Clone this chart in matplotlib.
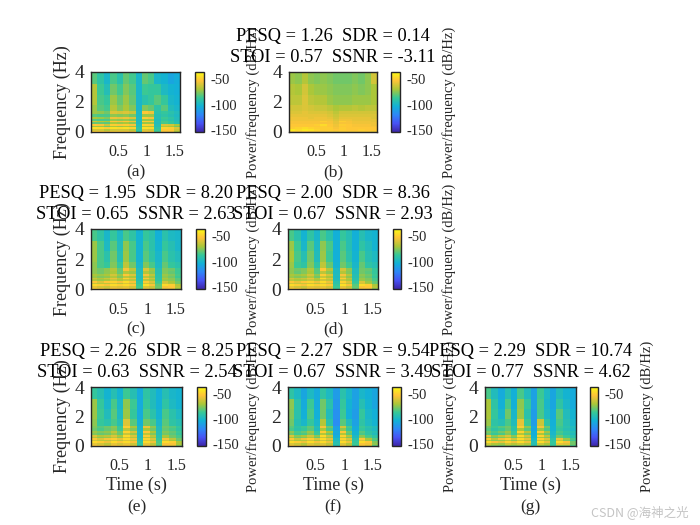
import matplotlib
matplotlib.use('Agg')
import matplotlib.pyplot as plt
import numpy as np
from matplotlib.colors import LinearSegmentedColormap

W, H = 700, 525

# parula-like colormap
parula = LinearSegmentedColormap.from_list('parula', [
    (0.2422, 0.1504, 0.6603), (0.2810, 0.3228, 0.9579), (0.1786, 0.5289, 0.9682),
    (0.0689, 0.6948, 0.8394), (0.2161, 0.7843, 0.5923), (0.6720, 0.7793, 0.2227),
    (0.9970, 0.7659, 0.2199), (0.9769, 0.9839, 0.0805)])

time_edges = [0.02, 0.13, 0.25, 0.36, 0.47, 0.58, 0.69, 0.81, 0.92, 1.03, 1.14, 1.25, 1.37, 1.48, 1.59]
freq_edges = [4.0, 3.2, 2.5, 1.8, 1.38, 1.22, 1.02, 0.9, 0.76, 0.64, 0.52, 0.42, 0.32, 0.2, 0.08, 0.0]

# dB values, top row = highest frequency
spec_a = [
    [-82, -90, -100, -84, -92, -80, -85, -100, -80, -84, -100, -102, -108, -105],
    [-68, -86, -95, -78, -85, -76, -82, -100, -86, -88, -88, -98, -102, -104],
    [-68, -84, -88, -72, -80, -72, -80, -100, -92, -88, -82, -88, -100, -102],
    [-72, -82, -85, -68, -76, -70, -76, -100, -76, -80, -90, -82, -96, -100],
    [-72, -74, -78, -60, -62, -60, -64, -98, -52, -56, -92, -88, -92, -96],
    [-82, -84, -84, -74, -76, -74, -78, -98, -72, -72, -94, -90, -94, -98],
    [-70, -72, -76, -56, -58, -56, -60, -96, -50, -54, -94, -86, -90, -96],
    [-82, -84, -84, -72, -74, -72, -76, -98, -72, -72, -96, -88, -92, -96],
    [-64, -68, -70, -52, -54, -52, -56, -96, -50, -52, -94, -84, -88, -94],
    [-80, -80, -82, -70, -72, -70, -74, -98, -72, -72, -96, -84, -88, -94],
    [-52, -54, -64, -50, -52, -50, -54, -94, -48, -50, -94, -60, -62, -70],
    [-72, -72, -78, -70, -72, -70, -72, -94, -68, -68, -94, -68, -70, -78],
    [-44, -46, -50, -44, -46, -44, -48, -90, -44, -46, -90, -48, -50, -60],
    [-62, -62, -68, -62, -62, -62, -66, -90, -60, -62, -88, -52, -52, -64],
    [-50, -50, -56, -50, -50, -52, -56, -88, -50, -52, -84, -54, -54, -70],
]
spec_b = [
    [-72, -74, -68, -74, -76, -74, -76, -78, -78, -78, -76, -78, -74, -62],
    [-68, -70, -62, -70, -72, -72, -74, -76, -76, -76, -74, -76, -74, -70],
    [-66, -66, -60, -66, -68, -68, -72, -74, -74, -74, -72, -72, -72, -70],
    [-62, -62, -60, -62, -64, -64, -66, -70, -68, -68, -66, -68, -66, -66],
    [-60, -60, -58, -60, -60, -60, -62, -66, -62, -62, -62, -62, -62, -62],
    [-58, -58, -58, -58, -58, -58, -60, -64, -60, -60, -60, -60, -60, -60],
    [-56, -56, -56, -58, -56, -56, -58, -62, -58, -58, -58, -58, -58, -60],
    [-56, -56, -56, -56, -56, -56, -56, -60, -56, -56, -58, -58, -58, -58],
    [-54, -54, -54, -54, -54, -50, -54, -58, -50, -54, -56, -56, -56, -58],
    [-54, -54, -54, -54, -54, -54, -54, -58, -54, -54, -56, -56, -56, -56],
    [-52, -52, -52, -52, -50, -46, -52, -56, -50, -52, -54, -54, -54, -56],
    [-52, -52, -52, -52, -52, -50, -52, -56, -52, -52, -54, -54, -54, -54],
    [-50, -48, -46, -48, -50, -50, -50, -54, -50, -52, -52, -52, -52, -52],
    [-42, -46, -42, -44, -48, -50, -50, -52, -50, -52, -52, -50, -52, -52],
    [-56, -56, -54, -56, -56, -56, -56, -58, -56, -56, -56, -56, -56, -58],
]
spec_c = [
    [-84, -90, -100, -88, -98, -84, -90, -102, -88, -92, -104, -92, -98, -100],
    [-72, -84, -98, -82, -96, -74, -84, -102, -84, -92, -102, -88, -94, -100],
    [-72, -84, -92, -78, -94, -72, -84, -102, -82, -90, -100, -84, -92, -96],
    [-74, -84, -88, -76, -88, -66, -78, -100, -76, -84, -98, -80, -88, -92],
    [-74, -78, -74, -68, -80, -54, -66, -96, -60, -72, -94, -76, -78, -86],
    [-74, -78, -74, -70, -80, -68, -72, -96, -68, -74, -94, -76, -80, -86],
    [-70, -72, -70, -62, -72, -52, -60, -94, -54, -66, -92, -72, -76, -84],
    [-72, -76, -74, -68, -76, -66, -70, -96, -66, -72, -92, -74, -78, -86],
    [-64, -68, -64, -58, -66, -48, -58, -94, -52, -64, -90, -70, -74, -82],
    [-68, -72, -70, -64, -70, -64, -66, -94, -66, -70, -90, -72, -74, -82],
    [-52, -60, -52, -48, -54, -46, -54, -90, -50, -60, -86, -62, -70, -78],
    [-64, -66, -66, -62, -66, -60, -64, -90, -62, -66, -84, -62, -68, -78],
    [-46, -50, -54, -46, -50, -46, -52, -86, -44, -54, -80, -46, -50, -68],
    [-58, -62, -64, -58, -60, -58, -62, -84, -60, -64, -78, -54, -52, -66],
    [-50, -54, -60, -52, -54, -52, -58, -84, -56, -60, -78, -56, -56, -72],
]
spec_d = [
    [-84, -92, -102, -90, -100, -84, -92, -104, -88, -94, -104, -94, -100, -102],
    [-72, -86, -100, -82, -98, -74, -84, -104, -84, -94, -104, -90, -96, -102],
    [-70, -84, -94, -78, -96, -72, -86, -104, -82, -92, -102, -84, -94, -98],
    [-72, -86, -90, -76, -90, -66, -80, -102, -78, -86, -100, -80, -90, -94],
    [-74, -78, -76, -68, -82, -52, -68, -98, -62, -74, -96, -78, -80, -88],
    [-74, -80, -76, -70, -82, -66, -74, -98, -68, -76, -96, -78, -82, -88],
    [-70, -72, -70, -62, -74, -50, -62, -96, -54, -68, -94, -74, -78, -86],
    [-72, -76, -74, -68, -78, -64, -70, -98, -64, -74, -94, -76, -80, -88],
    [-62, -66, -64, -58, -68, -46, -60, -96, -50, -66, -92, -72, -76, -84],
    [-66, -70, -68, -64, -70, -62, -66, -96, -64, -70, -92, -72, -76, -84],
    [-52, -58, -52, -48, -56, -46, -56, -92, -48, -60, -88, -60, -72, -80],
    [-62, -64, -64, -62, -66, -60, -64, -92, -60, -66, -86, -62, -70, -80],
    [-46, -50, -54, -46, -50, -46, -52, -88, -44, -54, -82, -46, -50, -70],
    [-58, -62, -64, -58, -60, -58, -62, -86, -58, -64, -80, -54, -52, -68],
    [-50, -54, -60, -52, -54, -52, -58, -86, -54, -60, -80, -54, -56, -74],
]
spec_e = [
    [-88, -94, -102, -94, -102, -86, -94, -106, -90, -96, -104, -94, -100, -102],
    [-72, -88, -100, -84, -100, -74, -86, -106, -88, -96, -104, -90, -98, -102],
    [-72, -86, -96, -82, -98, -72, -88, -106, -84, -92, -102, -84, -92, -98],
    [-74, -88, -92, -84, -94, -60, -82, -104, -78, -84, -100, -82, -90, -94],
    [-76, -82, -78, -74, -86, -50, -70, -100, -56, -74, -96, -78, -82, -88],
    [-78, -84, -80, -76, -86, -66, -76, -100, -70, -78, -96, -80, -84, -90],
    [-72, -76, -74, -66, -78, -48, -62, -98, -52, -70, -94, -76, -80, -86],
    [-76, -80, -78, -72, -80, -64, -72, -100, -66, -76, -94, -78, -82, -88],
    [-60, -68, -66, -60, -70, -46, -60, -98, -50, -66, -92, -70, -78, -84],
    [-68, -74, -72, -66, -74, -62, -68, -98, -66, -72, -92, -72, -78, -84],
    [-52, -60, -54, -50, -58, -46, -56, -94, -48, -60, -88, -54, -66, -78],
    [-62, -66, -66, -62, -66, -60, -64, -94, -60, -66, -86, -62, -70, -80],
    [-46, -50, -56, -46, -52, -46, -54, -90, -46, -56, -84, -46, -50, -70],
    [-58, -62, -66, -58, -62, -58, -64, -88, -58, -66, -82, -54, -54, -70],
    [-52, -56, -62, -54, -56, -54, -60, -90, -56, -62, -84, -56, -58, -76],
]
spec_f = [
    [-90, -98, -108, -98, -106, -90, -98, -112, -92, -100, -110, -100, -104, -108],
    [-74, -92, -106, -86, -106, -78, -92, -114, -88, -102, -110, -94, -102, -108],
    [-76, -92, -104, -84, -104, -78, -96, -116, -86, -104, -112, -88, -100, -104],
    [-78, -94, -100, -88, -100, -68, -92, -118, -82, -96, -110, -90, -98, -102],
    [-82, -90, -86, -80, -94, -54, -78, -110, -62, -84, -106, -86, -92, -96],
    [-84, -92, -88, -82, -96, -70, -84, -110, -74, -88, -106, -88, -94, -98],
    [-74, -84, -80, -72, -88, -50, -70, -106, -52, -78, -102, -82, -90, -94],
    [-78, -86, -84, -76, -88, -68, -78, -108, -68, -82, -102, -84, -90, -96],
    [-60, -74, -70, -62, -74, -46, -64, -104, -48, -68, -98, -74, -84, -90],
    [-70, -78, -76, -68, -80, -64, -72, -104, -66, -76, -98, -72, -82, -90],
    [-52, -64, -56, -50, -60, -46, -58, -98, -48, -60, -92, -52, -70, -82],
    [-64, -70, -68, -62, -70, -62, -68, -98, -60, -68, -90, -60, -72, -84],
    [-46, -50, -56, -46, -54, -46, -56, -94, -46, -56, -88, -46, -52, -76],
    [-60, -64, -68, -60, -64, -60, -66, -92, -60, -68, -86, -54, -56, -74],
    [-54, -58, -64, -56, -58, -56, -62, -94, -56, -64, -88, -54, -60, -82],
]
spec_g = [
    [-84, -96, -106, -94, -104, -84, -96, -110, -86, -98, -108, -96, -102, -106],
    [-70, -90, -104, -84, -104, -74, -88, -110, -84, -100, -108, -90, -100, -106],
    [-70, -88, -100, -78, -100, -72, -92, -112, -84, -98, -106, -82, -96, -102],
    [-72, -90, -94, -84, -96, -58, -86, -112, -64, -90, -104, -84, -94, -100],
    [-78, -86, -82, -78, -90, -50, -74, -106, -54, -78, -102, -86, -92, -96],
    [-82, -90, -86, -80, -92, -70, -82, -108, -72, -84, -102, -88, -94, -98],
    [-76, -84, -78, -72, -86, -48, -68, -104, -50, -72, -100, -84, -90, -94],
    [-80, -88, -84, -76, -88, -68, -78, -106, -70, -80, -100, -86, -92, -96],
    [-56, -74, -66, -60, -74, -46, -62, -102, -48, -66, -96, -78, -86, -92],
    [-72, -80, -76, -70, -80, -66, -72, -102, -70, -76, -96, -78, -86, -92],
    [-50, -66, -56, -50, -62, -46, -58, -98, -48, -60, -90, -56, -72, -84],
    [-68, -74, -72, -66, -74, -64, -70, -98, -64, -70, -90, -64, -76, -86],
    [-46, -54, -58, -48, -56, -46, -56, -94, -46, -58, -88, -46, -54, -78],
    [-64, -70, -72, -64, -68, -64, -68, -94, -64, -70, -88, -58, -60, -78],
    [-72, -76, -78, -74, -76, -74, -76, -94, -74, -76, -88, -74, -74, -84],
]

spectra = [spec_a, spec_b, spec_c, spec_d, spec_e, spec_f, spec_g]
panel_labels = ['(a)', '(b)', '(c)', '(d)', '(e)', '(f)', '(g)']
titles = [
    None,
    'PESQ = 1.26  SDR = 0.14\nSTOI = 0.57  SSNR = -3.11',
    'PESQ = 1.95  SDR = 8.20\nSTOI = 0.65  SSNR = 2.63',
    'PESQ = 2.00  SDR = 8.36\nSTOI = 0.67  SSNR = 2.93',
    'PESQ = 2.26  SDR = 8.25\nSTOI = 0.63  SSNR = 2.54',
    'PESQ = 2.27  SDR = 9.54\nSTOI = 0.67  SSNR = 3.49',
    'PESQ = 2.29  SDR = 10.74\nSTOI = 0.77  SSNR = 4.62',
]
time_ticks = [0.5, 1, 1.5]
time_ticklabels = ['0.5', '1', '1.5']
freq_ticks = [0, 2, 4]
db_ticks = [-150, -100, -50]

# pixel boxes: x0, x1, y0, y1, colorbar x0, colorbar x1, power label x
boxes = [
    (91, 180, 72, 132, 195, 204, 253),
    (289, 377, 72, 132, 391, 400, 449),
    (91, 181, 229, 289, 196, 205, 253),
    (288, 378, 229, 289, 393, 401, 449),
    (91, 182, 387, 446, 197, 206, 253),
    (288, 378, 387, 446, 392, 401, 450),
    (485, 576, 387, 446, 590, 598, 647),
]

plt.rcParams['font.family'] = ['Liberation Serif', 'DejaVu Serif']
fig = plt.figure(figsize=(W / 100, H / 100), dpi=100, facecolor='white')


def px_axes(x0, x1, y0, y1):
    return fig.add_axes([x0 / W, 1 - y1 / H, (x1 - x0) / W, (y1 - y0) / H])


def px_text(x, y, s, **kw):
    fig.text(x / W, 1 - y / H, s, ha='center', va='center', **kw)


for i, spec in enumerate(spectra):
    x0, x1, y0, y1, cx0, cx1, lx = boxes[i]
    ax = px_axes(x0, x1, y0, y1)
    mesh = ax.pcolormesh(time_edges, freq_edges, np.array(spec), cmap=parula,
                         vmin=-154, vmax=-36, shading='flat', rasterized=True)
    ax.set_xlim(0.02, 1.59)
    ax.set_ylim(0, 4)
    ax.set_xticks(time_ticks)
    ax.set_xticklabels(time_ticklabels, fontsize=11.5, color='#262626')
    ax.set_yticks(freq_ticks)
    ax.set_yticklabels([str(v) for v in freq_ticks], fontsize=14, color='#262626')
    ax.tick_params(axis='both', length=0)
    ax.tick_params(axis='x', pad=9)
    ax.tick_params(axis='y', pad=5)
    for sp in ax.spines.values():
        sp.set_linewidth(1.0)
        sp.set_color('#262626')

    cax = px_axes(cx0, cx1, y0, y1)
    cb = fig.colorbar(mesh, cax=cax)
    cb.set_ticks(db_ticks)
    cb.ax.set_yticklabels([str(v) for v in db_ticks], fontsize=10.5, color='#262626')
    cb.ax.tick_params(length=0, pad=5)
    cb.outline.set_linewidth(1.0)
    cb.outline.set_edgecolor('#262626')

    mid_y = (y0 + y1) / 2
    mid_x = (x0 + x1) / 2
    if titles[i]:
        px_text(mid_x, y0 - 25, titles[i], fontsize=13.2, color='black', linespacing=1.35)
    if i in (0, 2, 4):
        px_text(62, mid_y, 'Frequency (Hz)', fontsize=13, rotation=90, color='#262626')
    px_text(lx, mid_y, 'Power/frequency (dB/Hz)', fontsize=10.5, rotation=90, color='#262626')
    if i >= 4:
        px_text(mid_x, y1 + 39, 'Time (s)', fontsize=13, color='#262626')
        px_text(mid_x, y1 + 61, panel_labels[i], fontsize=12.5, color='#262626')
    else:
        px_text(mid_x, y1 + 40, panel_labels[i], fontsize=12.5, color='#262626')

fig.text(640 / W, 1 - 512 / H, 'CSDN @海神之光', ha='center', va='center', fontsize=9,
         color='#c4c4c4', family=['Noto Sans CJK SC', 'DejaVu Sans'])

plt.savefig('out.png', dpi=100, facecolor='white')
